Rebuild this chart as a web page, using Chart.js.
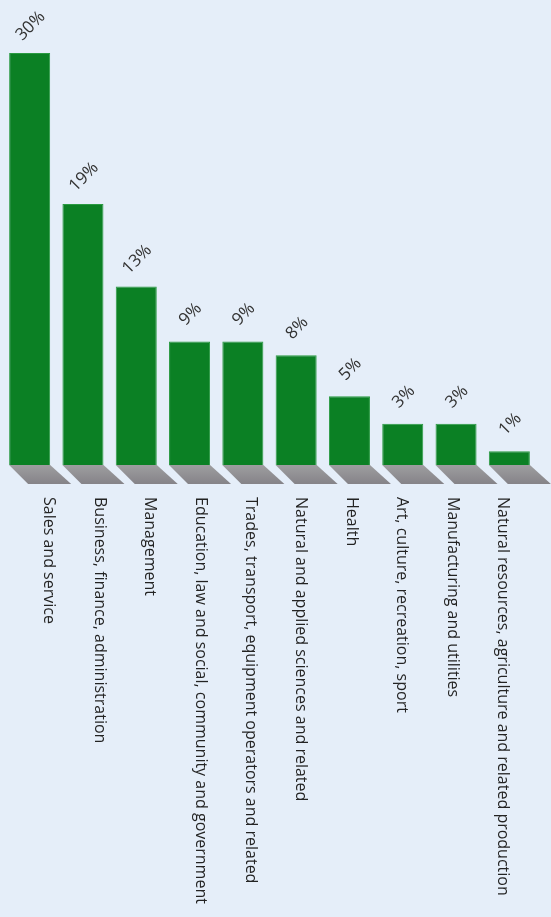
<!DOCTYPE html>
<html>
<head>
<meta charset="utf-8">
<script src="https://cdn.jsdelivr.net/npm/chart.js@4"></script>
<style>
  html, body { margin: 0; padding: 0; background: #e5eef9; }
  #wrap { width: 551px; height: 917px; }
</style>
</head>
<body>
<div id="wrap"><canvas id="myChart" width="551" height="917"></canvas></div>
<script>
// Occupation groups and their shares (%)
const categories = [
  "Sales and service",
  "Business, finance, administration",
  "Management",
  "Education, law and social, community and government",
  "Trades, transport, equipment operators and related",
  "Natural and applied sciences and related",
  "Health",
  "Art, culture, recreation, sport",
  "Manufacturing and utilities",
  "Natural resources, agriculture and related production"
];
const shares = [30, 19, 13, 9, 9, 8, 5, 3, 3, 1];
const valueLabels = ["30%", "19%", "13%", "9%", "9%", "8%", "5%", "3%", "3%", "1%"];

// label axis range: names sit on a slightly narrower pitch than the bars
const LABEL_MIN = -0.9127;
const LABEL_MAX = 9.663;

// grey floor shadow under each bar
const shadowPlugin = {
  id: "shadows",
  beforeDatasetsDraw(chart) {
    const ctx = chart.ctx;
    const base = chart.scales.y.getPixelForValue(0);
    chart.getDatasetMeta(0).data.forEach(bar => {
      const half = bar.width / 2;
      const g = ctx.createLinearGradient(0, base, 0, base + 19);
      g.addColorStop(0, "#9e9ea0");
      g.addColorStop(1, "#858388");
      ctx.save();
      ctx.fillStyle = g;
      ctx.beginPath();
      ctx.moveTo(bar.x - half, base);
      ctx.lineTo(bar.x + half, base);
      ctx.lineTo(bar.x + half + 21, base + 19);
      ctx.lineTo(bar.x - half + 19, base + 19);
      ctx.closePath();
      ctx.fill();
      ctx.restore();
    });
  }
};

// rotated percentage labels and vertical category names
const labelPlugin = {
  id: "labels",
  afterDatasetsDraw(chart) {
    const ctx = chart.ctx;
    ctx.save();
    ctx.fillStyle = "#333333";
    ctx.font = "17px 'Open Sans'";
    ctx.textAlign = "center";
    ctx.textBaseline = "middle";
    chart.getDatasetMeta(0).data.forEach((bar, i) => {
      ctx.save();
      ctx.translate(bar.x + 1, bar.y - 27);
      ctx.rotate(-Math.PI / 4);
      ctx.fillText(valueLabels[i], 0, 0);
      ctx.restore();
    });
    const x2 = chart.scales.x2;
    ctx.fillStyle = "#232323";
    ctx.font = "16px 'Open Sans'";
    ctx.textAlign = "left";
    categories.forEach((name, i) => {
      ctx.save();
      ctx.translate(x2.getPixelForValue(i), 497);
      ctx.rotate(Math.PI / 2);
      ctx.fillText(name, 0, 0);
      ctx.restore();
    });
    ctx.restore();
  }
};

const ctx = document.getElementById("myChart");

let chart = new Chart(ctx, {
  type: "bar",
  data: {
    labels: categories,
    datasets: [{
      label: "Share",
      data: shares,
      backgroundColor: "#0b8024",
      borderColor: "#2a9a42",
      borderWidth: 1,
      barPercentage: 0.77,
      categoryPercentage: 1
    }]
  },
  options: {
    responsive: false,
    animation: false,
    layout: { padding: { top: 53, bottom: 452, left: 3, right: 15 } },
    plugins: { legend: { display: false }, tooltip: { enabled: false } },
    scales: {
      x: { display: false },
      x2: {
        type: "linear",
        display: false,
        offset: false,
        grace: 0,
        bounds: "data",
        min: LABEL_MIN,
        max: LABEL_MAX,
        afterBuildTicks(scale) {
          scale.min = LABEL_MIN;
          scale.max = LABEL_MAX;
        }
      },
      y: { display: false, min: 0, max: 30 }
    }
  },
  plugins: [shadowPlugin, labelPlugin]
});
</script>
</body>
</html>
